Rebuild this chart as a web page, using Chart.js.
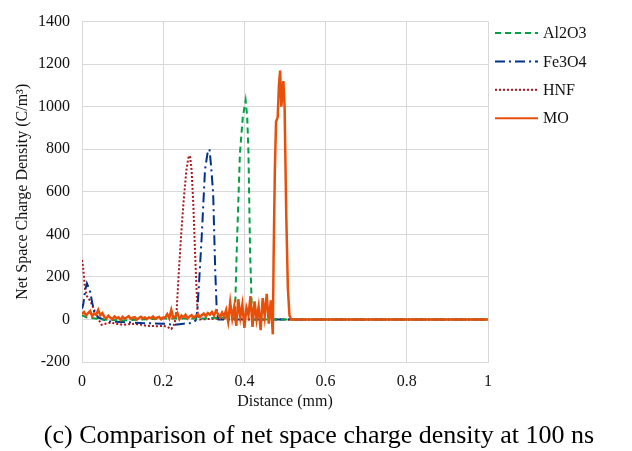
<!DOCTYPE html>
<html>
<head>
<meta charset="utf-8">
<script src="https://cdn.jsdelivr.net/npm/chart.js@4.4.1/dist/chart.umd.min.js"></script>
<style>
  html, body { margin: 0; padding: 0; background: #fff; }
  #wrap { position: relative; width: 632px; height: 451px; }
  #legenda { position: absolute; left: 0; top: 420px; width: 638px; text-align: center;
    font-family: "Liberation Serif", serif; font-size: 26px; color: #000; }
</style>
</head>
<body>
<div id="wrap">
  <canvas id="myChart" width="632" height="451"></canvas>
  <div id="legenda">(c) Comparison of net space charge density at 100 ns</div>
</div>
<script>
const seriesNames = ["Al2O3", "Fe3O4", "HNF", "MO"];
const xTicks = [0, 0.2, 0.4, 0.6, 0.8, 1];
const yTicks = [-200, 0, 200, 400, 600, 800, 1000, 1200, 1400];

const al2o3Distance = [0, 0.01, 0.05, 0.1, 0.2, 0.3, 0.36, 0.374, 0.377, 0.381, 0.385, 0.389, 0.396, 0.403, 0.407, 0.41, 0.414, 0.418, 0.421, 0.43, 0.6, 1];
const al2o3Charge = [20, 10, 0, -5, 5, 5, 10, 0, 37, 316, 550, 781, 950, 1030, 950, 781, 316, 70, 0, 0, 0, 0];

const fe3o4Distance = [0, 0.003, 0.008, 0.012, 0.016, 0.02, 0.025, 0.03, 0.04, 0.064, 0.1, 0.147, 0.2, 0.229, 0.25, 0.27, 0.28, 0.284, 0.288, 0.295, 0.303, 0.309, 0.314, 0.318, 0.323, 0.328, 0.332, 0.336, 0.4, 0.6, 1];
const fe3o4Charge = [50, 70, 140, 170, 150, 130, 80, 37, 10, -9, -12, -17, -20, -25, -20, -17, -5, 40, 162, 394, 704, 780, 800, 720, 595, 239, 37, 0, 0, 0, 0];

const hnfDistance = [0, 0.003, 0.007, 0.012, 0.016, 0.022, 0.028, 0.035, 0.048, 0.07, 0.1, 0.13, 0.16, 0.187, 0.2, 0.21, 0.22, 0.228, 0.233, 0.239, 0.245, 0.25, 0.257, 0.262, 0.266, 0.27, 0.274, 0.28, 0.285, 0.29, 0.35, 0.5, 1];
const hnfCharge = [280, 240, 150, 110, 100, 80, 55, 20, -25, -15, -25, -20, -30, -32, -30, -35, -45, -20, 40, 240, 420, 550, 700, 760, 770, 700, 550, 240, 20, 0, 5, 0, 0];

const moDistance = [
  0, 0.005, 0.01, 0.015, 0.02, 0.025, 0.03, 0.035, 0.04, 0.045, 0.05,
  0.055, 0.06, 0.065, 0.07, 0.075, 0.08, 0.085, 0.09, 0.095, 0.1,
  0.105, 0.11, 0.115, 0.12, 0.125, 0.13, 0.135, 0.14, 0.145, 0.15,
  0.155, 0.16, 0.165, 0.17, 0.175, 0.18, 0.185, 0.19, 0.195, 0.2,
  0.205, 0.21, 0.215, 0.22, 0.225, 0.23, 0.235, 0.24, 0.245, 0.25,
  0.255, 0.26, 0.265, 0.27, 0.275, 0.28, 0.285, 0.29, 0.295, 0.3,
  0.305, 0.31, 0.315, 0.32, 0.325, 0.33, 0.335, 0.34, 0.345, 0.35,
  0.355, 0.36, 0.365, 0.37, 0.375, 0.38, 0.385, 0.39, 0.395, 0.4,
  0.405, 0.41, 0.415, 0.42, 0.425, 0.43, 0.435, 0.44, 0.445, 0.45,
  0.455, 0.46, 0.465, 0.47,
  0.472, 0.475, 0.478, 0.482, 0.485, 0.488, 0.491, 0.494, 0.496, 0.499, 0.503, 0.507, 0.511, 0.515, 0.6, 0.8, 1
];
const moCharge = [
  25, 35, 18, 30, 40, 15, 28, 22, 45, 20, 30,
  12, 5, 18, 8, 2, 14, 6, 10, -2, 12,
  4, 9, 15, 3, 8, 11, 0, 7, 13, 5,
  9, 2, 10, 6, 14, 3, 8, 12, 1, 9,
  10, 25, 5, 45, 8, 15, 30, 2, 18, 10,
  22, 5, 14, 20, 8, 16, 25, 12, 20, 28,
  15, 30, 22, 35, 18, 40, 25, 10, 32, 15,
  45, -10, 80, 5, 60, -30, 95, 10, 70, -40,
  55, 20, 110, -35, 85, 0, 60, -50, 100, 15,
  120, -20, 90, -70,
  300, 700, 930, 950, 1100, 1170, 1000, 1080, 1120, 1000, 500, 150, 20, 0, 0, 0, 0
];

function pares(xs, ys) {
  return xs.map((x, i) => ({ x: x, y: ys[i] }));
}

const fonte = { family: "Liberation Serif", size: 16 };

// legenda desenhada a mao, para manter o tracejado das linhas
const legendaLateral = {
  id: "legendaLateral",
  afterDraw(chart) {
    const c = chart.ctx;
    chart.data.datasets.forEach((ds, i) => {
      const y = 33 + i * 28.4;
      c.save();
      c.strokeStyle = ds.borderColor;
      c.lineWidth = 2;
      c.setLineDash(ds.borderDash || []);
      c.beginPath();
      c.moveTo(495, y);
      c.lineTo(538, y);
      c.stroke();
      c.restore();
      c.fillStyle = "#111";
      c.font = "16px 'Liberation Serif'";
      c.textBaseline = "middle";
      c.fillText(ds.label, 543, y + 1);
    });
  }
};

const ctx = document.getElementById("myChart").getContext("2d");

new Chart(ctx, {
  type: "line",
  data: {
    datasets: [
      {
        label: seriesNames[0],
        data: pares(al2o3Distance, al2o3Charge),
        borderColor: "rgb(0, 160, 70)",
        borderDash: [6, 4],
        borderWidth: 2,
        order: 2
      },
      {
        label: seriesNames[1],
        data: pares(fe3o4Distance, fe3o4Charge),
        borderColor: "rgb(0, 50, 140)",
        borderDash: [10, 4, 2, 4],
        borderWidth: 2,
        order: 3
      },
      {
        label: seriesNames[2],
        data: pares(hnfDistance, hnfCharge),
        borderColor: "rgb(170, 20, 30)",
        borderDash: [2, 2],
        borderWidth: 2,
        order: 4
      },
      {
        label: seriesNames[3],
        data: pares(moDistance, moCharge),
        borderColor: "rgb(232, 80, 10)",
        borderWidth: 2.5,
        order: 1
      }
    ]
  },
  plugins: [legendaLateral],
  options: {
    responsive: false,
    animation: false,
    elements: { point: { radius: 0 }, line: { tension: 0 } },
    layout: { padding: { left: 4, right: 144, top: 18, bottom: 40 } },
    plugins: {
      tooltip: { enabled: false },
      legend: { display: false }
    },
    scales: {
      x: {
        type: "linear",
        min: 0,
        max: 1,
        afterBuildTicks: (scale) => { scale.ticks = xTicks.map(v => ({ value: v })); },
        afterFit: (scale) => { scale.height = 49; },
        grid: { color: "#d9d9d9", drawTicks: false },
        border: { color: "#d9d9d9" },
        ticks: { color: "#111", font: fonte, padding: 10, callback: (v) => String(v) },
        title: { display: true, text: "Distance (mm)", color: "#111", font: fonte, padding: { top: 8, bottom: 0 } }
      },
      y: {
        type: "linear",
        min: -200,
        max: 1400,
        afterBuildTicks: (scale) => { scale.ticks = yTicks.map(v => ({ value: v })); },
        afterFit: (scale) => { scale.width = 78; },
        grid: { color: "#d9d9d9", drawTicks: false },
        border: { color: "#d9d9d9" },
        ticks: { color: "#111", font: fonte, padding: 12, callback: (v) => String(v) },
        title: { display: true, text: "Net Space Charge Density (C/m³)", color: "#111", font: fonte, padding: { top: 9, bottom: 0 } }
      }
    }
  }
});
</script>
</body>
</html>
